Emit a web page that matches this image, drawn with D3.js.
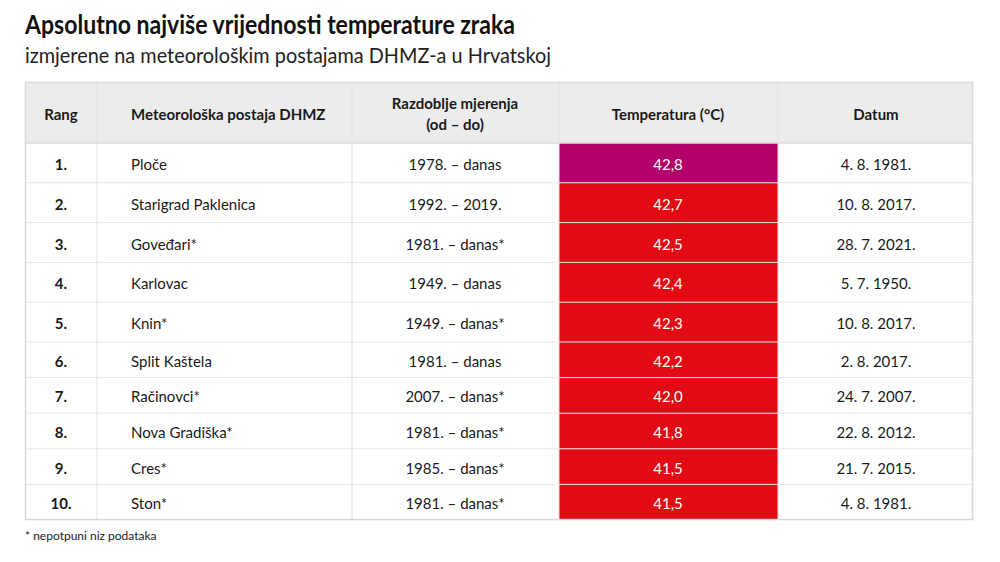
<!DOCTYPE html>
<html>
<head>
<meta charset="utf-8">
<script src="https://cdn.jsdelivr.net/npm/d3@7"></script>
<style>
  body { margin: 0; background: #fff; }
  svg { display: block; font-family: Lato, "Open Sans", sans-serif; }
</style>
</head>
<body>
<svg id="chart" width="1000" height="562"></svg>
<script>
var ranks = ["1.", "2.", "3.", "4.", "5.", "6.", "7.", "8.", "9.", "10."];
var stations = ["Ploče", "Starigrad Paklenica", "Goveđari*", "Karlovac", "Knin*",
  "Split Kaštela", "Račinovci*", "Nova Gradiška*", "Cres*", "Ston*"];
var periods = ["1978. – danas", "1992. – 2019.", "1981. – danas*", "1949. – danas",
  "1949. – danas*", "1981. – danas", "2007. – danas*", "1981. – danas*",
  "1985. – danas*", "1981. – danas*"];
var temps = [42.8, 42.7, 42.5, 42.4, 42.3, 42.2, 42.0, 41.8, 41.5, 41.5];
var dates = ["4. 8. 1981.", "10. 8. 2017.", "28. 7. 2021.", "5. 7. 1950.",
  "10. 8. 2017.", "2. 8. 2017.", "24. 7. 2007.", "22. 8. 2012.",
  "21. 7. 2015.", "4. 8. 1981."];
var columns = ["Rang", "Meteorološka postaja DHMZ", "Razdoblje mjerenja|(od – do)",
  "Temperatura (°C)", "Datum"];

var rows = ranks.map(function(r, i) {
  return { rank: r, station: stations[i], period: periods[i], temp: temps[i], date: dates[i] };
});

var svg = d3.select("#chart");

// column edges
var colEdges = [25, 97, 352, 559, 778, 973];
var headTop = 82, headBottom = 143;

// rows get a bit shorter lower down in the reference
var y = d3.scaleLinear().domain([0, 5, 10]).range([143, 342, 520]);

var fmt = function(v) { return d3.format(".1f")(v).replace(".", ","); };
var tempColor = d3.scaleThreshold().domain([42.8]).range(["#e20b14", "#b3006a"]);

// title
function fitText(sel, w) {
  sel.each(function() {
    if (this.getComputedTextLength() > w) {
      d3.select(this).attr("textLength", w).attr("lengthAdjust", "spacingAndGlyphs");
    }
  });
}
svg.append("text")
  .attr("x", 25).attr("y", 34)
  .style("font-size", "27px").style("font-weight", 700).style("fill", "#111")
  .text("Apsolutno najviše vrijednosti temperature zraka")
  .call(fitText, 490);
svg.append("text")
  .attr("x", 25).attr("y", 63)
  .style("font-size", "21px").style("fill", "#222")
  .text("izmjerene na meteorološkim postajama DHMZ-a u Hrvatskoj")
  .call(fitText, 526);

// header background
svg.append("rect")
  .attr("x", colEdges[0]).attr("y", headTop)
  .attr("width", colEdges[5] - colEdges[0]).attr("height", headBottom - headTop)
  .attr("fill", "#ececec");

// temperature cells
svg.selectAll("rect.temp")
  .data(rows)
  .enter().append("rect")
  .attr("class", "temp")
  .attr("x", colEdges[3]).attr("y", function(d, i) { return y(i); })
  .attr("width", colEdges[4] - colEdges[3])
  .attr("height", function(d, i) { return y(i + 1) - y(i); })
  .attr("fill", function(d) { return tempColor(d.temp); });

// grid lines
var grid = svg.append("g").attr("stroke", "#e2e2e2").attr("stroke-width", 1);
grid.selectAll("line.h")
  .data(d3.range(1, 10))
  .enter().append("line")
  .attr("x1", colEdges[0]).attr("x2", colEdges[5])
  .attr("y1", function(i) { return y(i); }).attr("y2", function(i) { return y(i); })
  .attr("stroke", "#e6e6e6");
grid.append("line")
  .attr("x1", colEdges[0]).attr("x2", colEdges[5])
  .attr("y1", headBottom).attr("y2", headBottom)
  .attr("stroke", "#dadada").attr("stroke-width", 1.5);
grid.selectAll("line.v")
  .data(colEdges.slice(1, 5))
  .enter().append("line")
  .attr("x1", function(d) { return d; }).attr("x2", function(d) { return d; })
  .attr("y1", headTop).attr("y2", y(10))
  .attr("stroke", "#e2e2e2");
svg.append("rect")
  .attr("x", colEdges[0] + 0.5).attr("y", headTop + 0.5)
  .attr("width", colEdges[5] - colEdges[0] - 1).attr("height", y(10) - headTop - 1)
  .attr("fill", "none").attr("stroke", "#d8d8d8").attr("stroke-width", 1.5);

// header labels
var headX = [61, 131, 455, 668, 876];
var head = svg.append("g").style("font-size", "15px").style("font-weight", 700).style("fill", "#1a1a1a");
columns.forEach(function(c, j) {
  var lines = c.split("|");
  var t = head.append("text")
    .attr("x", headX[j])
    .attr("text-anchor", j === 1 ? "start" : "middle");
  lines.forEach(function(l, k) {
    t.append("tspan")
      .attr("x", headX[j])
      .attr("y", (headTop + headBottom) / 2 + 7 + (k - (lines.length - 1) / 2) * 21)
      .text(l);
  });
});

// body rows
var body = svg.append("g").style("font-size", "15px").style("fill", "#1a1a1a");
var rowG = body.selectAll("g.row")
  .data(rows)
  .enter().append("g")
  .attr("class", "row")
  .attr("transform", function(d, i) { return "translate(0," + ((y(i) + y(i + 1)) / 2 + 7) + ")"; });

rowG.append("text").attr("x", headX[0]).attr("text-anchor", "middle")
  .style("font-weight", 700).text(function(d) { return d.rank; });
rowG.append("text").attr("x", headX[1]).text(function(d) { return d.station; });
rowG.append("text").attr("x", headX[2]).attr("text-anchor", "middle").text(function(d) { return d.period; });
rowG.append("text").attr("x", headX[3]).attr("text-anchor", "middle")
  .style("fill", "#fff").text(function(d) { return fmt(d.temp); });
rowG.append("text").attr("x", headX[4]).attr("text-anchor", "middle").text(function(d) { return d.date; });

// footnote
svg.append("text")
  .attr("x", 25).attr("y", 540)
  .style("font-size", "12px").style("fill", "#222")
  .text("* nepotpuni niz podataka");
</script>
</body>
</html>
